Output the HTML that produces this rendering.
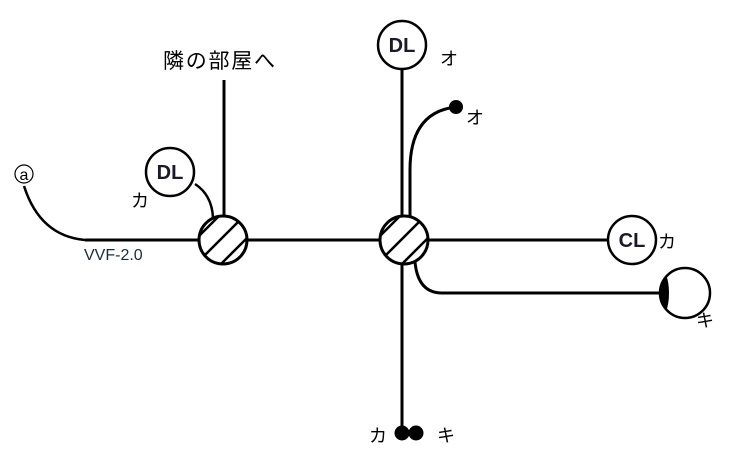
<!DOCTYPE html><html><head><style>body{margin:0;background:#fff}svg{display:block}text{font-family:"Liberation Sans","Noto Sans CJK JP",sans-serif}</style></head><body>
<svg width="736" height="460" viewBox="0 0 736 460" xmlns="http://www.w3.org/2000/svg">
<defs><clipPath id="c1"><circle cx="223" cy="240" r="24"/></clipPath><clipPath id="c2"><circle cx="404" cy="240" r="24"/></clipPath><clipPath id="c3"><circle cx="685" cy="293" r="25"/></clipPath></defs>
<g stroke="#000" stroke-width="3" fill="none">
<path d="M85,240 L199,240 M247,240 L380,240 M428,240 L608,240"/>
<path d="M224,80 L224,216"/>
<path d="M402,69 L402,216 M402,264 L402,428"/>
<path d="M456,107 Q410,112 410,170 L410,216"/>
<path d="M415,262 Q418,293 442,293 L662,293"/>
<path d="M24,186 Q40,236 85,240" stroke-width="2.5"/>
<path d="M195,184 Q212,195 213,218" stroke-width="2.5"/>
</g>
<g clip-path="url(#c1)" stroke="#000" stroke-width="2.5"><path d="M190,245 L230,205 M200,260 L245,215 M210,275 L255,230"/></g>
<circle cx="223" cy="240" r="24" fill="none" stroke="#000" stroke-width="3"/>
<g clip-path="url(#c2)" stroke="#000" stroke-width="2.5"><path d="M371,245 L411,205 M381,260 L426,215 M391,275 L436,230"/></g>
<circle cx="404" cy="240" r="24" fill="none" stroke="#000" stroke-width="3"/>
<circle cx="402" cy="45" r="24" fill="#fff" stroke="#000" stroke-width="2.5"/>
<circle cx="170" cy="172" r="24" fill="#fff" stroke="#000" stroke-width="2.5"/>
<circle cx="632" cy="240" r="24" fill="#fff" stroke="#000" stroke-width="2.5"/>
<g clip-path="url(#c3)"><ellipse cx="660" cy="293" rx="9" ry="25" fill="#000"/></g>
<circle cx="685" cy="293" r="25" fill="none" stroke="#000" stroke-width="2.5"/>
<circle cx="456" cy="107" r="7" fill="#000"/>
<circle cx="402" cy="433" r="7.5" fill="#000"/><circle cx="416" cy="433" r="7.5" fill="#000"/>
<circle cx="24" cy="174" r="9" fill="#fff" stroke="#000" stroke-width="1.2"/>
<text x="24" y="180" font-size="16" text-anchor="middle">a</text>
<g font-size="20" font-weight="bold" fill="#1a1a2a" text-anchor="middle">
<text x="402" y="52">DL</text><text x="170" y="179">DL</text><text x="632" y="247">CL</text></g>
<g font-size="18">
<text x="163" y="68" font-size="21" textLength="112">隣の部屋へ</text>
<text x="440" y="65">オ</text><text x="466" y="124">オ</text>
<text x="131" y="207">カ</text><text x="658" y="248">カ</text>
<text x="696" y="327">キ</text>
<text x="369" y="442">カ</text><text x="437" y="442">キ</text>
<text x="84" y="260" font-size="16" fill="#1a2a3a">VVF-2.0</text>
</g>
</svg></body></html>
